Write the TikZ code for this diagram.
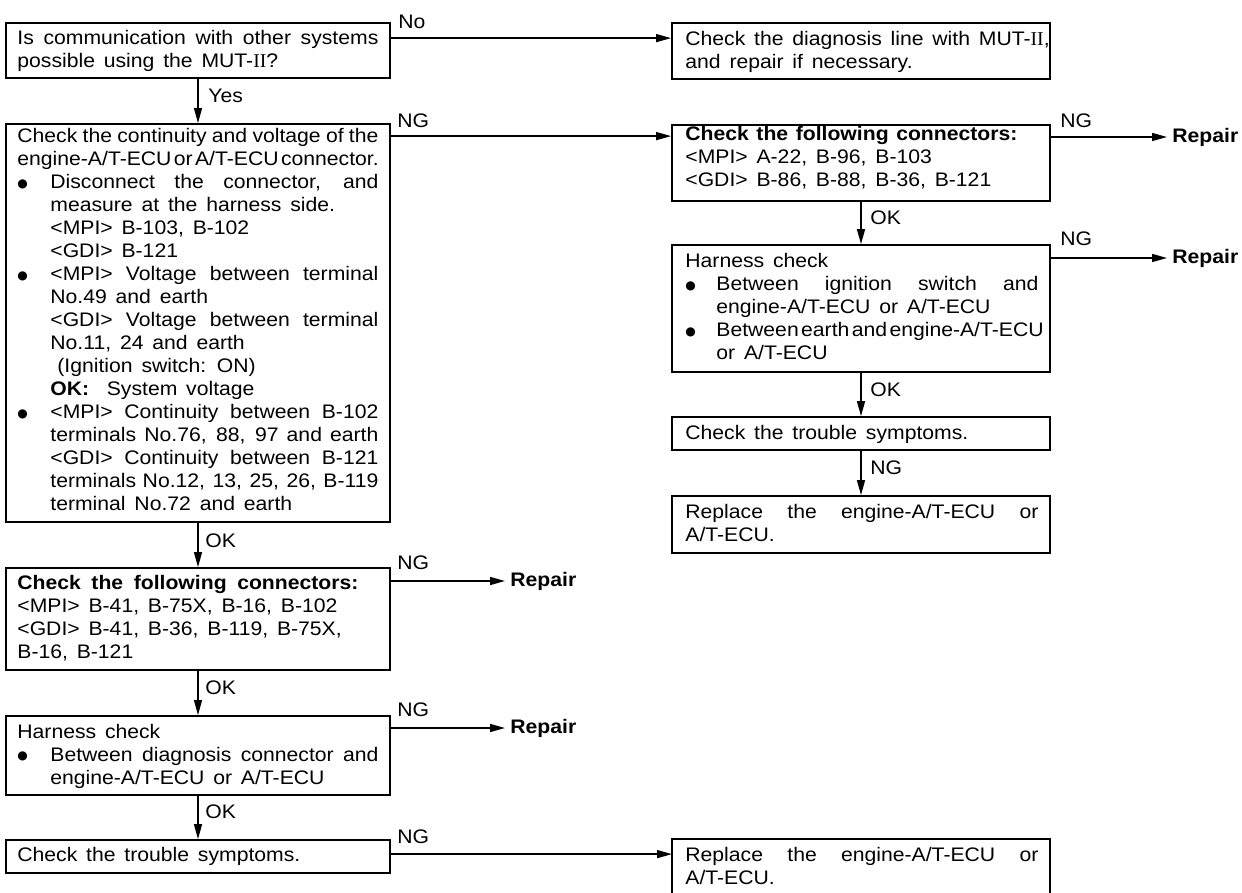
\documentclass[tikz,border=0pt]{standalone}
\usepackage{fontspec}
\setmainfont{Liberation Sans}[FakeStretch=1.08,WordSpace=1.5]
\newfontfamily\srf{Liberation Serif}
\newfontfamily\dv{DejaVu Sans}
\usetikzlibrary{arrows.meta,fit}
\newcommand\tblock[1]{\vtop{\fontsize{9.8}{11.5}\selectfont\baselineskip=11.5pt\lineskiplimit=-20pt #1}}
\newcommand\Ln[1]{\hbox{#1}}
\newcommand\LJ[2]{\hbox to #1{#2}}
\newcommand\LC[2]{\hbox to #1{\spaceskip=1.2pt plus 1fil\relax #2}}
\newcommand\bdot{\raisebox{0.9pt}{\dv\fontsize{6}{6}\selectfont ●}}
\newcommand\bul{\hbox to 16.5pt{\bdot\hss}}
\newcommand\ind{\kern16.5pt}
\newcommand\bulR{\hbox to 15.5pt{\bdot\hss}}
\newcommand\indR{\kern15.5pt}
\newcommand\MUT{MUT-{\srf II}}
\tikzset{
  box/.style={draw, line width=0.9pt, inner sep=0pt},
  arr/.style={draw, line width=0.7pt, -{Triangle[length=7.5pt,width=4pt]}},
  txt/.style={anchor=base west, inner sep=0pt},
  lbl/.style={anchor=west, inner sep=0pt, font=\fontsize{9.8}{11.5}\selectfont},
  rep/.style={anchor=west, inner sep=2.5pt, font=\fontsize{9.8}{11.5}\selectfont\bfseries}
}
\begin{document}
\begin{tikzpicture}[x=0.5pt,y=-0.5pt]
\useasboundingbox (0,0) rectangle (1242,893);
% ---------- boxes ----------
\node[box, fit={(6,23) (390,78)}] (b1) {};
\node[box, fit={(672,23) (1050,79)}] (dg) {};
\node[box, fit={(6,124) (390,522)}] (b2) {};
\node[box, fit={(672,125) (1050,201)}] (bA) {};
\node[box, fit={(672,245) (1050,372)}] (bB) {};
\node[box, fit={(672,417) (1050,450)}] (bC) {};
\node[box, fit={(672,496) (1050,553)}] (bD) {};
\node[box, fit={(6,568) (390,670)}] (b3) {};
\node[box, fit={(6,716) (390,795)}] (b4) {};
\node[box, fit={(6,840) (390,873)}] (b5) {};
\draw[line width=0.9pt] (672,893) -- (672,839) -- (1050,839) -- (1050,893);
\coordinate (eW) at (672,855);
% ---------- texts ----------
\node[txt] (t1) at (17,45) {\tblock{%
\LJ{180.5pt}{Is communication with other systems}
\Ln{possible using the \MUT?}}};
\node[txt] (tdg) at (685,46) {\tblock{%
\Ln{Check the diagnosis line with \MUT,}
\Ln{and repair if necessary.}}};
\node[txt] (t2) at (17,143) {\tblock{%
\LC{180.5pt}{Check the continuity and voltage of the}
\LC{180.5pt}{engine-A/T-ECU or A/T-ECU connector.}
\LJ{180.5pt}{\bul Disconnect the connector, and}
\Ln{\ind measure at the harness side.}
\Ln{\ind <MPI> B-103, B-102}
\Ln{\ind <GDI> B-121}
\LJ{180.5pt}{\bul <MPI> Voltage between terminal}
\Ln{\ind No.49 and earth}
\LJ{180.5pt}{\ind <GDI> Voltage between terminal}
\Ln{\ind No.11, 24 and earth}
\Ln{\kern20pt (Ignition switch: ON)}
\Ln{\ind \textbf{OK:}\ \ System voltage}
\LJ{180.5pt}{\bul <MPI> Continuity between B-102}
\LC{180.5pt}{\ind terminals No.76, 88, 97 and earth}
\LJ{180.5pt}{\ind <GDI> Continuity between B-121}
\LC{180.5pt}{\ind terminals No.12, 13, 25, 26, B-119}
\Ln{\ind terminal No.72 and earth}}};
\node[txt] (tA) at (685,141) {\tblock{%
\LJ{166pt}{\bfseries Check the following connectors:}
\Ln{<MPI> A-22, B-96, B-103}
\Ln{<GDI> B-86, B-88, B-36, B-121}}};
\node[txt] (tB) at (685,268) {\tblock{%
\Ln{Harness check}
\LJ{176.5pt}{\bulR Between ignition switch and}
\Ln{\indR engine-A/T-ECU or A/T-ECU}
\LC{176.5pt}{\bulR Between earth and engine-A/T-ECU}
\Ln{\indR or A/T-ECU}}};
\node[txt] (tC) at (685,439) {\tblock{\Ln{Check the trouble symptoms.}}};
\node[txt] (tD) at (685,518) {\tblock{%
\LJ{176.5pt}{Replace the engine-A/T-ECU or}
\Ln{A/T-ECU.}}};
\node[txt] (t3) at (17,589) {\tblock{%
\LJ{170.5pt}{\bfseries Check the following connectors:}
\Ln{<MPI> B-41, B-75X, B-16, B-102}
\Ln{<GDI> B-41, B-36, B-119, B-75X,}
\Ln{B-16, B-121}}};
\node[txt] (t4) at (17,738) {\tblock{%
\Ln{Harness check}
\LJ{180.5pt}{\bul Between diagnosis connector and}
\Ln{\ind engine-A/T-ECU or A/T-ECU}}};
\node[txt] (t5) at (17,861) {\tblock{\Ln{Check the trouble symptoms.}}};
\node[txt] (tE) at (685,861) {\tblock{%
\LJ{176.5pt}{Replace the engine-A/T-ECU or}
\Ln{A/T-ECU.}}};
% ---------- repair nodes ----------
\node[rep] (rA) at (1167,137) {Repair};
\node[rep] (rB) at (1167,258) {Repair};
\node[rep] (r3) at (505,581) {Repair};
\node[rep] (r4) at (505,728) {Repair};
% ---------- connectors ----------
\coordinate (n1) at ([yshift=-8pt]b1.north east);
\draw[arr] (n1) -- (n1 -| dg.west);
\node[lbl] (lNo) at (398,22) {No};
\draw[arr] (b1.south) -- (b2.north);
\node[lbl] (lYes) at (208,96) {Yes};
\coordinate (n2) at ([yshift=-6.5pt]b2.north east);
\draw[arr] (n2) -- (n2 -| bA.west);
\node[lbl] (lNG2) at (397,121) {NG};
\draw[arr] (bA.east |- rA) -- (rA.west);
\node[lbl] (lNGA) at (1060,121) {NG};
\draw[arr] (bA.south) -- (bB.north);
\node[lbl] (lOKA) at (870,218) {OK};
\draw[arr] (bB.east |- rB) -- (rB.west);
\node[lbl] (lNGB) at (1060,239) {NG};
\draw[arr] (bB.south) -- (bC.north);
\node[lbl] (lOKB) at (870,390) {OK};
\draw[arr] (bC.south) -- (bD.north);
\node[lbl] (lNGC) at (870,468) {NG};
\draw[arr] (b2.south) -- (b3.north);
\node[lbl] (lOK2) at (205,541) {OK};
\draw[arr] (b3.east |- r3) -- (r3.west);
\node[lbl] (lNG3) at (397,563) {NG};
\draw[arr] (b3.south) -- (b4.north);
\node[lbl] (lOK3) at (205,688) {OK};
\draw[arr] (b4.east |- r4) -- (r4.west);
\node[lbl] (lNG4) at (397,710) {NG};
\draw[arr] (b4.south) -- (b5.north);
\node[lbl] (lOK4) at (205,812) {OK};
\coordinate (n5) at ([yshift=-7.5pt]b5.north east);
\draw[arr] (n5) -- (n5 -| eW);
\node[lbl] (lNG5) at (397,837) {NG};
\end{tikzpicture}
\end{document}
